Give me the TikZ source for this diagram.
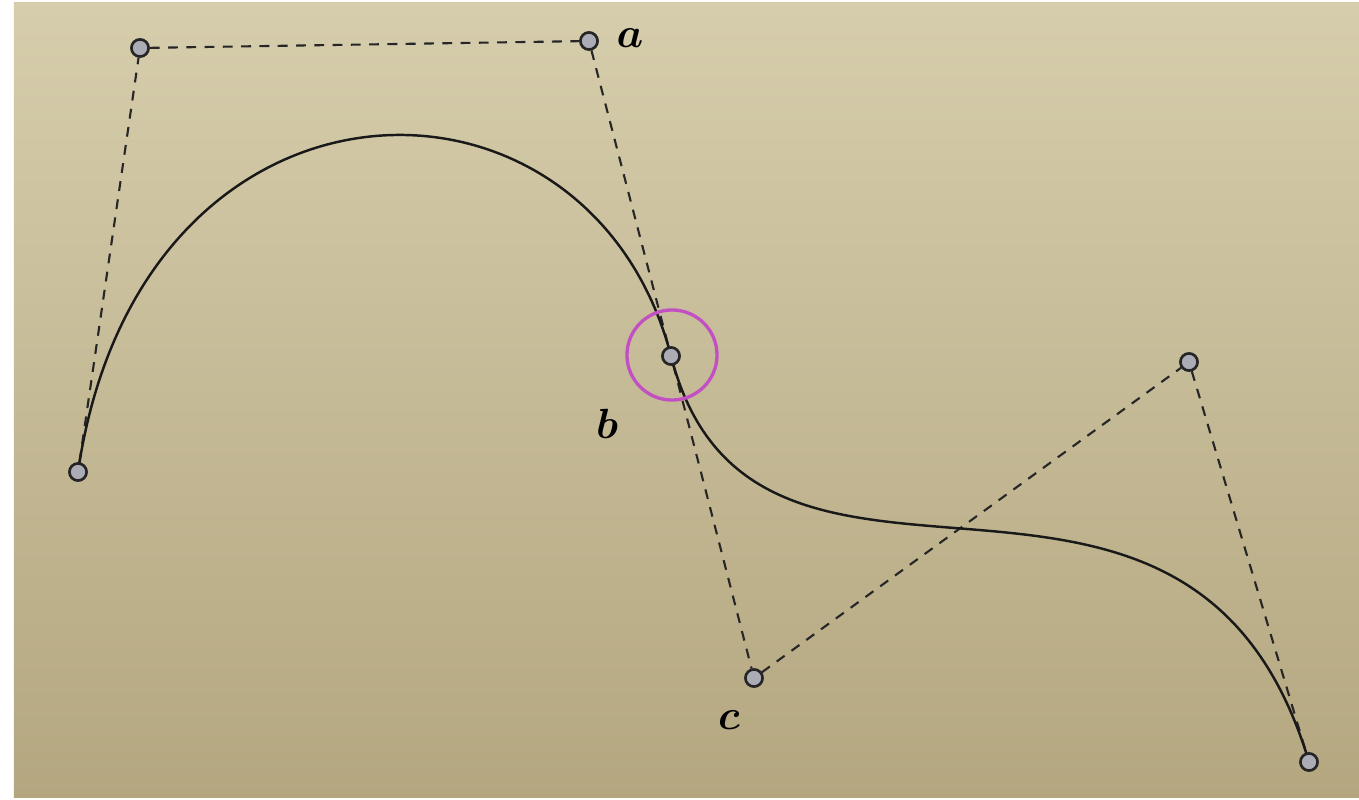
\documentclass[tikz,border=0pt]{standalone}
\usepackage{amsmath}
\begin{document}
\begin{tikzpicture}[x=0.01cm,y=-0.01cm,
  pt/.style={circle,draw=black!85,line width=0.7pt,fill=ptfill,inner sep=0pt,minimum size=0.17cm},
  ctrl/.style={line width=0.6pt,dash pattern=on 2.8pt off 2.4pt,draw=black!85},
  curve/.style={line width=0.7pt,draw=black!90},
  lbl/.style={font=\fontsize{13}{15}\selectfont\boldmath},
  ring/.style={draw=ringcol,line width=0.95pt}]
\definecolor{ptfill}{RGB}{172,172,182}
\definecolor{ringcol}{RGB}{195,80,195}
\definecolor{papertop}{RGB}{214,205,172}
\definecolor{paperbot}{RGB}{180,167,128}
\useasboundingbox (0,0) rectangle (1359,800);
\fill[white] (0,0) rectangle (1359,800);
\shade[top color=papertop,bottom color=paperbot] (14,3) rectangle (1359,797);
% control points and end points
\node[pt] (p0) at (78,472) {};
\node[pt] (p1) at (140,48) {};
\node[pt] (p2) at (589,41) {};
\node[pt] (p3) at (671,356) {};
\node[pt] (p4) at (754,678) {};
\node[pt] (p5) at (1189,362) {};
\node[pt] (p6) at (1309,762) {};
% control polygon
\draw[ctrl] (p0) -- (p1) -- (p2) -- (p3) -- (p4) -- (p5) -- (p6);
% curve
\draw[curve] (p0.center) .. controls (p1.center) and (p2.center) .. (p3.center)
  .. controls (p4.center) and (p5.center) .. (p6.center);
% redraw points on top
\foreach \n in {p0,p1,p2,p3,p4,p5,p6}{\node[pt] at (\n) {};}
% highlight ring
\node[ring,circle,minimum size=0.9cm,inner sep=0pt] (hl) at (672,355) {};
% labels
\node[lbl] (la) at (630,38) {$a$};
\node[lbl] (lb) at (607,424) {$b$};
\node[lbl] (lc) at (729,720) {$c$};
\end{tikzpicture}
\end{document}
